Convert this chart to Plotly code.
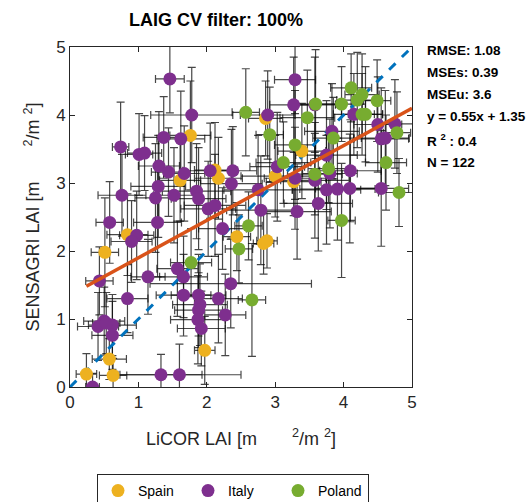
import plotly.graph_objects as go

# ---- data ----
spain_x = [1.61, 2.86, 1.76, 3.39, 3.00, 3.27, 2.12, 2.17, 0.84, 0.51, 0.575, 0.24, 0.63, 2.44, 2.83, 2.88, 1.97]
spain_y = [3.04, 3.95, 3.70, 3.47, 3.10, 3.02, 3.19, 3.07, 2.24, 1.98, 0.41, 0.19, 0.17, 2.21, 2.11, 2.15, 0.54]
spain_ex = [0.30, 0.25, 0.30, 0.35, 0.50, 0.40, 0.30, 0.35, 0.30, 0.20, 0.25, 0.15, 0.20, 0.20, 0.15, 0.15, 0.15]
spain_ey = [0.60, 0.55, 0.80, 0.70, 0.60, 0.50, 0.70, 0.60, 0.60, 0.80, 0.30, 0.30, 0.25, 0.50, 0.45, 0.40, 0.50]

poland_x = [2.57, 2.92, 3.29, 3.12, 4.11, 4.27, 4.20, 4.49, 3.97, 3.59, 3.47, 4.27, 4.32, 4.78, 3.85, 4.62,
            3.78, 3.58, 4.81, 3.97, 2.61, 2.47, 1.77, 2.66]
poland_y = [4.04, 3.71, 3.56, 3.30, 4.40, 4.30, 4.22, 4.21, 4.16, 4.16, 3.96, 4.01, 4.01, 3.74, 3.66, 3.30,
            3.21, 3.13, 2.86, 2.45, 2.37, 2.03, 1.83, 1.28]
poland_ex = [0.20, 0.20, 0.30, 0.40, 0.30, 0.25, 0.30, 0.20, 0.35, 0.30, 0.40, 0.30, 0.25, 0.20, 0.30, 0.30,
             0.30, 0.40, 0.30, 0.20, 0.20, 0.20, 0.30, 0.20]
poland_ey = [0.64, 0.70, 0.80, 0.60, 0.50, 0.60, 0.70, 0.60, 0.55, 0.80, 0.70, 0.60, 0.70, 0.60, 0.60, 0.70,
             0.50, 0.60, 0.50, 0.84, 0.50, 0.50, 0.50, 0.83]

italy_x = [1.46, 0.74, 1.01, 1.09, 1.37, 1.62, 1.30, 1.44, 1.67, 1.29, 0.76, 1.25, 1.52, 0.58, 1.28, 0.975,
           0.90, 0.43, 1.14, 1.57, 1.66, 0.84, 1.66, 0.50, 0.62, 0.41, 0.53, 0.62, 1.33, 1.60, 0.33, 3.29,
           1.78, 2.89, 3.27, 3.03, 3.29, 2.05, 2.38, 2.36, 1.85, 1.88, 2.75, 2.02, 2.12, 2.79, 3.32, 3.58,
           4.15, 4.50, 4.75, 3.83, 4.55, 4.61, 3.75, 4.10, 3.80, 3.58, 3.75, 3.91, 4.09, 4.55, 3.63, 2.23,
           2.35, 1.88, 2.17, 1.90, 1.88, 2.27, 1.87, 1.92]
italy_y = [4.53, 3.53, 3.42, 3.44, 3.67, 3.65, 3.25, 3.16, 3.14, 2.95, 2.82, 2.78, 2.82, 2.42, 2.42, 2.23,
           2.14, 1.56, 1.62, 1.74, 1.62, 1.30, 1.35, 0.97, 0.91, 0.89, 0.94, 0.76, 0.18, 0.18, 0.00, 4.52,
           4.00, 4.00, 4.15, 3.24, 3.07, 3.18, 3.18, 2.99, 2.88, 2.77, 2.90, 2.62, 2.67, 2.60, 2.58, 4.15,
           4.01, 3.86, 3.87, 3.76, 3.65, 3.66, 3.41, 3.18, 3.14, 3.04, 2.90, 2.91, 2.92, 2.92, 2.70, 2.33,
           1.52, 1.35, 1.30, 1.21, 1.13, 1.06, 0.99, 0.86]
italy_ex = [0.21, 0.12, 0.20, 0.25, 0.30, 0.35, 0.30, 0.25, 0.30, 0.40, 0.35, 0.30, 0.30, 0.20, 0.35, 0.25,
            0.30, 0.20, 0.25, 0.30, 0.35, 0.30, 0.40, 0.30, 0.35, 0.30, 0.20, 0.30, 0.60, 0.90, 0.10, 0.30,
            0.60, 0.40, 0.35, 0.40, 0.45, 0.40, 0.35, 0.45, 0.50, 0.40, 0.50, 0.40, 0.45, 0.50, 0.50, 0.30,
            0.30, 0.35, 0.30, 0.40, 0.40, 0.35, 0.45, 0.45, 0.40, 0.50, 0.50, 0.55, 0.50, 0.40, 0.50, 0.35,
            1.18, 0.40, 0.35, 0.40, 0.35, 0.30, 0.40, 0.35]
italy_ey = [0.50, 0.66, 0.60, 0.55, 0.60, 0.70, 0.80, 0.65, 0.70, 0.75, 0.60, 0.80, 0.70, 0.60, 0.80, 0.65,
            0.60, 0.50, 0.55, 0.70, 0.60, 0.50, 0.60, 0.50, 0.45, 0.50, 0.45, 0.50, 0.30, 0.45, 0.20, 0.50,
            0.70, 0.65, 0.70, 0.80, 0.75, 0.70, 0.65, 0.80, 0.70, 0.75, 0.80, 0.70, 0.75, 0.80, 0.70, 0.70,
            0.60, 0.70, 0.65, 0.70, 0.75, 0.70, 0.80, 0.75, 0.80, 0.85, 0.80, 0.75, 0.80, 0.85, 0.70, 0.60,
            0.65, 0.60, 0.65, 0.60, 0.55, 0.60, 0.65, 0.55]

fit_slope, fit_intercept = 0.55, 1.35
fit_x = [0.24, 5.0]
one_to_one = [0.0, 5.0]
stats_lines = ["RMSE: 1.08", "MSEs: 0.39", "MSEu: 3.6", "y = 0.55x + 1.35", "R <sup>2</sup> : 0.4", "N = 122"]

groups = [
    ("Spain", "#EDB120", spain_x, spain_y, spain_ex, spain_ey),
    ("Italy", "#7E2F8E", italy_x, italy_y, italy_ex, italy_ey),
    ("Poland", "#77AC30", poland_x, poland_y, poland_ex, poland_ey),
]

fig = go.Figure()
ebar_color = "rgba(10,10,10,0.75)"
# error bars first (below all markers)
for name, col, xs, ys, exs, eys in groups:
    fig.add_trace(go.Scatter(
        x=xs, y=ys, mode="markers", showlegend=False, hoverinfo="skip",
        marker=dict(size=1, color="rgba(0,0,0,0)"),
        error_x=dict(type="data", array=exs, color=ebar_color, thickness=1.2, width=4),
        error_y=dict(type="data", array=eys, color=ebar_color, thickness=1.2, width=4),
    ))

# 1:1 line
fig.add_trace(go.Scatter(x=one_to_one, y=one_to_one, mode="lines", showlegend=False,
                         line=dict(color="#0072BD", width=3, dash="dash")))

for name, col, xs, ys, exs, eys in groups:
    fig.add_trace(go.Scatter(
        x=xs, y=ys, mode="markers", name=name,
        marker=dict(size=13, color=col, line=dict(width=0)),
    ))

# regression line
fig.add_trace(go.Scatter(x=fit_x, y=[fit_slope * v + fit_intercept for v in fit_x], mode="lines",
                         showlegend=False, line=dict(color="#D95319", width=3.5)))

axis_common = dict(range=[0, 5], dtick=1, showline=True, linecolor="#262626", linewidth=1,
                   mirror="allticks", ticks="inside", ticklen=5, tickcolor="#262626",
                   showgrid=False, zeroline=False, automargin=False,
                   tickfont=dict(family="Liberation Sans, Arial", size=17, color="#262626"))

fig.update_layout(
    width=529, height=502,
    margin=dict(l=70, r=117, t=47, b=115, autoexpand=False),
    plot_bgcolor="white", paper_bgcolor="white",
    font=dict(family="Liberation Sans, Arial", color="#262626"),
    xaxis=dict(**axis_common,
               title=dict(text="LiCOR LAI [m       <sup>2</sup>/m <sup>2</sup>]", standoff=20,
                          font=dict(size=18, color="#262626"))),
    yaxis=dict(**axis_common,
               title=dict(text="SENSAGRI LAI [m       <sup>2</sup>/m <sup>2</sup>]", standoff=11,
                          font=dict(size=18, color="#262626"))),
    legend=dict(orientation="h", xref="container", yref="container",
                x=97 / 529, y=1 - 474 / 502, xanchor="left", yanchor="top",
                bordercolor="#262626", borderwidth=1, bgcolor="white",
                font=dict(size=14, color="#000000"), entrywidth=45, itemwidth=30,
                tracegroupgap=0),
    showlegend=True,
)

fig.add_annotation(text="<b>LAIG CV filter: 100%</b>", xref="paper", yref="paper",
                   x=(216 - 70) / 342, y=1.0, yshift=27, showarrow=False,
                   font=dict(size=18, color="#000000"), xanchor="center", yanchor="middle")

for i, t in enumerate(stats_lines):
    fig.add_annotation(text="<b>" + t + "</b>", xref="paper", yref="paper",
                       x=1.0, xshift=13, y=1.0, yshift=-(3 + 22 * i) - (2 if i >= 4 else 0),
                       showarrow=False, xanchor="left", yanchor="middle",
                       font=dict(size=13.5, color="#000000"))

fig.write_html("out.html")
